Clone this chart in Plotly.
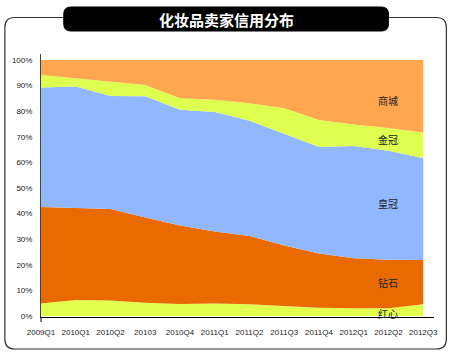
import plotly.graph_objects as go

categories = ["2009Q1", "2010Q1", "2010Q2", "20103", "2010Q4", "2011Q1",
              "2011Q2", "2011Q3", "2011Q4", "2012Q1", "2012Q2", "2012Q3"]

hongxin = [4.9, 6.2, 6.0, 5.2, 4.7, 4.9, 4.6, 4.0, 3.2, 3.0, 3.0, 4.6]
zuanshi = [37.7, 36.1, 35.8, 33.3, 30.6, 28.1, 26.6, 23.5, 21.2, 19.5, 19.0, 17.3]
huangguan = [46.6, 47.3, 44.1, 47.3, 45.2, 46.7, 45.0, 43.7, 41.6, 43.9, 42.5, 39.7]
jinguan = [4.9, 3.1, 5.5, 4.4, 4.5, 4.7, 6.9, 9.9, 10.5, 8.4, 8.9, 10.0]
shangcheng = [5.9, 7.3, 8.6, 9.8, 15.0, 15.6, 16.9, 18.9, 23.5, 25.2, 26.6, 28.4]

series = [
    ("红心", hongxin, "#E2FF50"),
    ("钻石", zuanshi, "#E86A00"),
    ("皇冠", huangguan, "#91B8FF"),
    ("金冠", jinguan, "#DEFF50"),
    ("商城", shangcheng, "#FFA64E"),
]

ytick_vals = [0, 10, 20, 30, 40, 50, 60, 70, 80, 90, 100]
ytick_text = ["0%", "10%", "20%", "30%", "40%", "50%", "60%", "70%", "80%", "90%", "100%"]

W, H = 450, 352
ML, MR, MT, MB = 38, 15, 54, 35
PW, PH = W - ML - MR, H - MT - MB


def px(x):
    return (x - ML) / PW


def py(y):
    return (H - MB - y) / PH


def rrect(x0, y0, x1, y1, r):
    pts = [
        f"M {px(x0 + r)} {py(y0)}",
        f"L {px(x1 - r)} {py(y0)}",
        f"Q {px(x1)} {py(y0)} {px(x1)} {py(y0 + r)}",
        f"L {px(x1)} {py(y1 - r)}",
        f"Q {px(x1)} {py(y1)} {px(x1 - r)} {py(y1)}",
        f"L {px(x0 + r)} {py(y1)}",
        f"Q {px(x0)} {py(y1)} {px(x0)} {py(y1 - r)}",
        f"L {px(x0)} {py(y0 + r)}",
        f"Q {px(x0)} {py(y0)} {px(x0 + r)} {py(y0)}",
        "Z",
    ]
    return " ".join(pts)


fig = go.Figure()
for name, vals, color in series:
    fig.add_trace(go.Scatter(
        x=categories, y=vals, name=name, mode="lines",
        stackgroup="one", line=dict(width=0, color=color),
        fillcolor=color, hoverinfo="x+y+name",
    ))

label_font = dict(family="Noto Sans CJK SC", size=10, color="#222")
label_pos = [("商城", 84.0), ("金冠", 69.0), ("皇冠", 43.8), ("钻石", 13.0), ("红心", 1.0)]
annotations = []
for text, yv in label_pos:
    annotations.append(dict(x=categories[10], y=yv, xref="x", yref="y", text=text,
                            showarrow=False, font=label_font, xanchor="center",
                            yanchor="middle"))

annotations.append(dict(x=px(225), y=py(19), xref="paper", yref="paper",
                        text="<b>化妆品卖家信用分布</b>", showarrow=False,
                        font=dict(family="Noto Sans CJK SC", size=15, color="white"),
                        xanchor="center", yanchor="middle"))

shapes = [
    dict(type="path", xref="paper", yref="paper", path=rrect(1.5, 17.5, 447.5, 349, 10),
         line=dict(color="#333", width=1.2), fillcolor="rgba(0,0,0,0)", layer="below"),
    dict(type="path", xref="paper", yref="paper", path=rrect(61, 7, 389, 31, 7),
         line=dict(color="black", width=1), fillcolor="black", layer="above"),
    dict(type="line", xref="paper", yref="paper", x0=px(38), x1=px(38), y0=py(317), y1=py(322),
         line=dict(color="black", width=1)),
]

tick_font = dict(family="Liberation Sans", size=8, color="#222")

fig.update_layout(
    width=W, height=H, autosize=False,
    margin=dict(l=ML, r=MR, t=MT, b=MB, pad=0),
    paper_bgcolor="white", plot_bgcolor="white",
    showlegend=False,
    annotations=annotations, shapes=shapes,
    font=dict(family="Liberation Sans", size=8, color="#222"),
    xaxis=dict(type="category", range=[0, 11.31], showgrid=False, zeroline=False,
               showline=True, linecolor="black", linewidth=1, ticks="",
               tickfont=tick_font, ticklabelstandoff=7, fixedrange=True),
    yaxis=dict(range=[-0.4, 102.3], tickvals=ytick_vals, ticktext=ytick_text,
               showgrid=False, zeroline=False, showline=True, linecolor="#444",
               linewidth=1, ticks="", tickfont=tick_font,
               ticklabelstandoff=6, fixedrange=True),
)

fig.write_html("out.html")
